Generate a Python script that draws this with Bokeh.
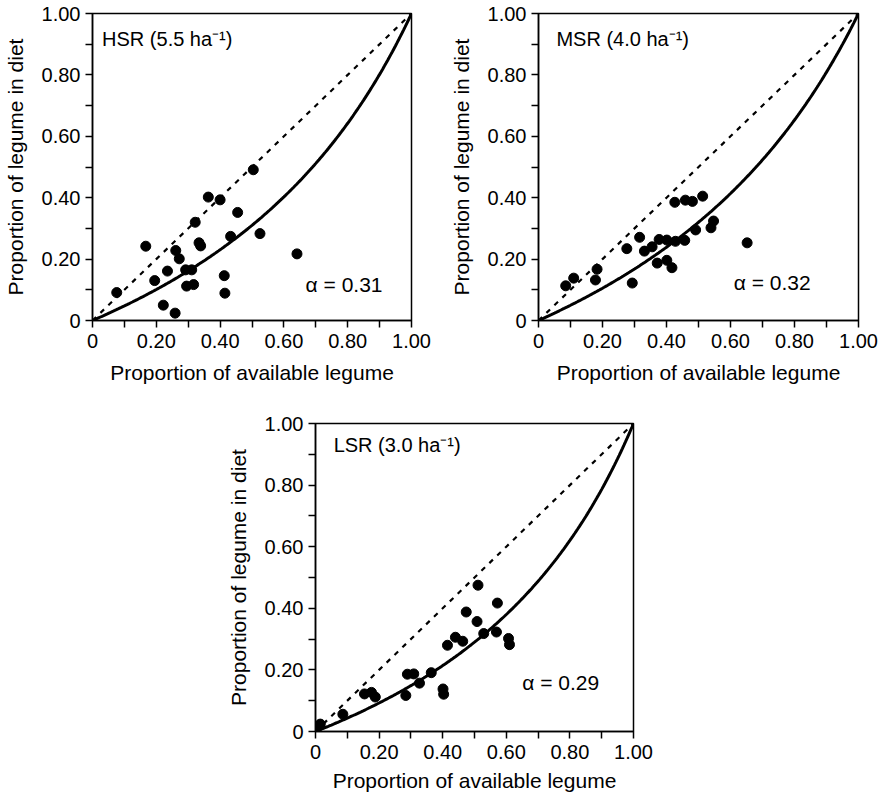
import numpy as np
from bokeh.plotting import figure
from bokeh.models import Range1d, FixedTicker, Label
from bokeh.layouts import row, column
from bokeh.embed import file_html
from bokeh.resources import INLINE

# ---------------- data ----------------
tick_values = [0, 0.2, 0.4, 0.6, 0.8, 1.0]
tick_labels = ["0", "0.20", "0.40", "0.60", "0.80", "1.00"]
minor_values = [0.1, 0.3, 0.5, 0.7, 0.9]

hsr_avail = [0.076, 0.167, 0.195, 0.222, 0.235, 0.259, 0.261, 0.272, 0.292, 0.295,
             0.311, 0.317, 0.322, 0.334, 0.339, 0.363, 0.400, 0.413, 0.415, 0.433,
             0.455, 0.504, 0.525, 0.641]
hsr_diet = [0.091, 0.242, 0.130, 0.050, 0.161, 0.024, 0.228, 0.201, 0.165, 0.112,
            0.165, 0.117, 0.320, 0.253, 0.243, 0.402, 0.393, 0.146, 0.089, 0.274,
            0.352, 0.491, 0.283, 0.217]

msr_avail = [0.085, 0.110, 0.183, 0.178, 0.276, 0.293, 0.316, 0.331, 0.355, 0.371,
             0.377, 0.401, 0.401, 0.417, 0.426, 0.428, 0.457, 0.459, 0.481, 0.491,
             0.513, 0.539, 0.547, 0.652]
msr_diet = [0.113, 0.138, 0.167, 0.132, 0.234, 0.122, 0.271, 0.226, 0.240, 0.187,
            0.264, 0.262, 0.196, 0.172, 0.385, 0.258, 0.261, 0.392, 0.388, 0.295,
            0.405, 0.302, 0.324, 0.253]

lsr_avail = [0.008, 0.015, 0.086, 0.154, 0.176, 0.188, 0.284, 0.289, 0.309, 0.327,
             0.364, 0.401, 0.403, 0.415, 0.440, 0.463, 0.474, 0.508, 0.511, 0.529,
             0.569, 0.572, 0.607, 0.610]
lsr_diet = [0.016, 0.024, 0.056, 0.122, 0.127, 0.112, 0.117, 0.186, 0.187, 0.157,
            0.191, 0.138, 0.121, 0.280, 0.306, 0.293, 0.388, 0.357, 0.475, 0.318,
            0.323, 0.417, 0.302, 0.282]

alphas = [0.31, 0.32, 0.29]
panel_titles = ["HSR (5.5 ha\u207b\u00b9)", "MSR (4.0 ha\u207b\u00b9)", "LSR (3.0 ha\u207b\u00b9)"]
alpha_texts = ["\u03b1 = 0.31", "\u03b1 = 0.32", "\u03b1 = 0.29"]

x_label = "Proportion of available legume"
y_label = "Proportion of legume in diet"

FONT = "Liberation Sans"


def make_panel(avail, diet, alpha, title, atext, title_pos, alpha_pos,
               bl, fw, br, bt, fh, bb, x_label_standoff):
    p = figure(frame_width=fw, frame_height=fh, output_backend="svg",
               toolbar_location=None, x_range=Range1d(0, 1), y_range=Range1d(0, 1))
    p.min_border_left = bl
    p.min_border_right = br
    p.min_border_top = bt
    p.min_border_bottom = bb
    p.background_fill_color = "white"
    p.border_fill_color = "white"
    p.outline_line_color = "black"
    p.outline_line_width = 1.5
    p.xgrid.visible = False
    p.ygrid.visible = False

    overrides = {v: s for v, s in zip(tick_values, tick_labels)}
    for ax in (p.xaxis[0], p.yaxis[0]):
        ax.ticker = FixedTicker(ticks=tick_values, minor_ticks=minor_values)
        ax.major_label_overrides = overrides
        ax.axis_line_color = "black"
        ax.axis_line_width = 1.5
        ax.major_tick_line_width = 1.5
        ax.minor_tick_line_width = 1.5
        ax.major_tick_in = 0
        ax.major_tick_out = 7
        ax.minor_tick_in = 0
        ax.minor_tick_out = 7
        ax.major_label_text_font = FONT
        ax.major_label_text_font_size = "20px"
        ax.major_label_text_color = "black"
        ax.axis_label_text_font = FONT
        ax.axis_label_text_font_size = "21px"
        ax.axis_label_text_font_style = "normal"
        ax.axis_label_text_color = "black"
    p.xaxis.major_label_standoff = 6
    p.xaxis.axis_label_standoff = x_label_standoff
    p.yaxis.major_label_standoff = 5
    p.yaxis.axis_label_standoff = 12
    p.xaxis.axis_label = x_label
    p.yaxis.axis_label = y_label
    p.yaxis.major_label_orientation = "horizontal"

    # 1:1 reference line
    p.line(tick_values, tick_values, line_color="black", line_width=2.2, line_dash="5 6")
    # selectivity curve (Chesson alpha)
    xs = np.linspace(0, 1, 201)
    ys = alpha * xs / (alpha * xs + (1 - alpha) * (1 - xs))
    p.line(xs, ys, line_color="black", line_width=3)
    # data
    p.scatter(avail, diet, size=10, fill_color="black", line_color="black")

    p.add_layout(Label(x=title_pos[0], y=title_pos[1], text=title, text_font=FONT,
                       text_font_size="20px", text_baseline="middle", text_color="black"))
    p.add_layout(Label(x=alpha_pos[0], y=alpha_pos[1], text=atext, text_font=FONT,
                       text_font_size="21px", text_baseline="middle", text_color="black"))
    return p


p1 = make_panel(hsr_avail, hsr_diet, alphas[0], panel_titles[0], alpha_texts[0],
                (0.030, 0.918), (0.668, 0.117), 88, 319, 35, 13, 307, 70, 10)
p2 = make_panel(msr_avail, msr_diet, alphas[1], panel_titles[1], alpha_texts[1],
                (0.056, 0.918), (0.61, 0.125), 87, 320, 20, 13, 307, 70, 10)
p3 = make_panel(lsr_avail, lsr_diet, alphas[2], panel_titles[2], alpha_texts[2],
                (0.057, 0.93), (0.65, 0.159), 315, 318, 20, 33, 308, 67, 7)

layout = column(row(p1, p2, spacing=0), p3, spacing=0)

open("out.html", "w").write(file_html(layout, INLINE))
